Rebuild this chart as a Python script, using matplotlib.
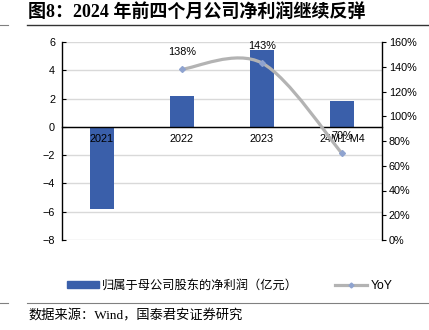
import matplotlib
matplotlib.use("Agg")
import matplotlib.pyplot as plt
from matplotlib.patches import Patch, PathPatch
from matplotlib.lines import Line2D
from matplotlib.path import Path
import numpy as np

plt.rcParams["font.family"] = ["Liberation Sans", "Noto Sans CJK SC"]
plt.rcParams["axes.unicode_minus"] = True

# 数据
categories = ["2021", "2022", "2023", "24M1-M4"]
profit = [-5.8, 2.2, 5.4, 1.8]          # 归母净利润（亿元）
yoy_idx = [1, 2, 3]                      # YoY 只有后三期
yoy = [138, 143, 70]                     # %
left_ticks = [-8, -6, -4, -2, 0, 2, 4, 6]
right_ticks = [0, 20, 40, 60, 80, 100, 120, 140, 160]

bar_color = "#3A5FAA"
line_color = "#B3B3B3"
marker_color = "#8FA3CF"
serif = ["Liberation Serif", "Noto Sans CJK SC"]

fig = plt.figure(figsize=(4.29, 3.30), dpi=100)
ax = fig.add_axes([62 / 429, 1 - 240 / 330, 320 / 429, 198 / 330])
ax2 = ax.twinx()

x = np.arange(len(categories))
ax.bar(x, profit, width=0.3, color=bar_color, zorder=3)
ax.set_xlim(-0.5, len(categories) - 0.5)
ax.set_ylim(-8, 6)
ax.set_yticks(left_ticks)
ax.grid(axis="y", color="#D9D9D9", linewidth=1)
ax.set_axisbelow(True)
ax.xaxis.set_zorder(5)   # 年份标签画在柱子上面

ax.spines["top"].set_visible(False)
ax.spines["right"].set_visible(False)
ax.spines["bottom"].set_position(("data", 0))
ax.spines["bottom"].set_color("black")
ax.spines["bottom"].set_linewidth(1)
ax.spines["bottom"].set_zorder(4)
ax.spines["left"].set_linewidth(1)
ax.set_xticks(x)
ax.set_xticklabels(categories)
ax.tick_params(axis="x", length=0, pad=5, labelsize=7.8)
ax.tick_params(axis="y", direction="in", length=3, labelsize=7.8, pad=5)

# 平滑折线（Excel 风格贝塞尔）
px = [float(v) for v in yoy_idx]
py = [float(v) for v in yoy]
verts = [(px[0], py[0])]
codes = [Path.MOVETO]
n = len(px)
for i in range(n - 1):
    p0 = (px[max(i - 1, 0)], py[max(i - 1, 0)])
    p1 = (px[i], py[i])
    p2 = (px[i + 1], py[i + 1])
    p3 = (px[min(i + 2, n - 1)], py[min(i + 2, n - 1)])
    c1 = (p1[0] + (p2[0] - p0[0]) / 6, p1[1] + (p2[1] - p0[1]) / 6)
    c2 = (p2[0] - (p3[0] - p1[0]) / 6, p2[1] - (p3[1] - p1[1]) / 6)
    verts += [c1, c2, p2]
    codes += [Path.CURVE4] * 3
ax2.add_patch(PathPatch(Path(verts, codes), facecolor="none",
                        edgecolor=line_color, linewidth=2.3, zorder=3))
ax2.plot(yoy_idx, yoy, linestyle="none", marker="D", markersize=3,
         color=marker_color, zorder=4)
for xi, v in zip(yoy_idx, yoy):
    ax2.annotate(f"{v}%", (xi, v), xytext=(0, 9), textcoords="offset points",
                 ha="center", va="bottom", fontsize=7.8)

ax2.set_ylim(0, 160)
ax2.set_yticks(right_ticks)
ax2.set_yticklabels([f"{t}%" for t in right_ticks])
ax2.tick_params(axis="y", direction="out", length=3, labelsize=7.8, pad=2)
for s in ["top", "bottom", "left"]:
    ax2.spines[s].set_visible(False)
ax2.spines["right"].set_linewidth(1)

# 图例
handles = [
    Patch(color=bar_color),
    Line2D([0], [0], color=line_color, linewidth=2.3, marker="D",
           markersize=2.5, markerfacecolor=marker_color, markeredgecolor=marker_color),
]
fig.legend(handles, ["归属于母公司股东的净利润（亿元）", "YoY"], loc="center",
           bbox_to_anchor=(0.535, 1 - 286 / 330), ncol=2, frameon=False,
           fontsize=8.8, handlelength=2.6, handleheight=0.45, handletextpad=0.3,
           columnspacing=3.0)

# 标题和来源
fig.text(28 / 429, 1 - 13 / 330, "图8：2024 年前四个月公司净利润继续反弹",
         fontsize=13, fontweight="bold", family=serif, va="center", ha="left")
fig.add_artist(Line2D([0, 8 / 429], [1 - 25 / 330] * 2, color="#808080", linewidth=0.8))
fig.add_artist(Line2D([27 / 429, 1], [1 - 25 / 330] * 2, color="#333333", linewidth=1.0))
fig.add_artist(Line2D([0, 8 / 429], [1 - 303 / 330] * 2, color="#808080", linewidth=0.8))
fig.add_artist(Line2D([27 / 429, 1], [1 - 303 / 330] * 2, color="#808080", linewidth=0.8))
fig.text(28 / 429, 1 - 316 / 330, "数据来源：Wind，国泰君安证券研究",
         fontsize=9.5, family=serif, va="center", ha="left")

fig.savefig("out.png", dpi=100)
